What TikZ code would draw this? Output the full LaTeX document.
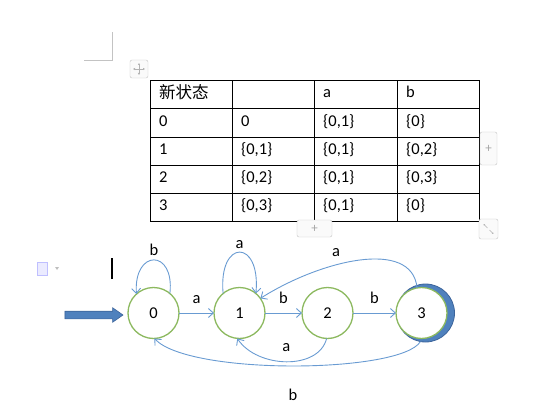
\documentclass[tikz,border=0pt]{standalone}
\usepackage{fontspec}
\setmainfont{Carlito}
\newfontfamily\cjk{Noto Sans CJK SC}
\usepackage{tikz}
\usetikzlibrary{arrows.meta, positioning, shapes.arrows}
\definecolor{stategreen}{RGB}{140,185,95}
\definecolor{edgeblue}{RGB}{105,155,210}
\definecolor{startblue}{RGB}{79,129,189}
\definecolor{startedge}{RGB}{60,100,155}
\definecolor{chromegray}{RGB}{195,195,195}

\begin{document}
\begin{tikzpicture}[
  x=1pt, y=1pt,
  every node/.style={font=\fontsize{16.5}{19}\selectfont},
  state/.style={circle, draw=stategreen, line width=1.3pt, fill=white,
                minimum size=51pt, inner sep=0pt, outer sep=0pt},
  ring/.style={circle, draw=startedge, fill=startblue, line width=0.8pt,
               minimum size=58pt, inner sep=0pt, outer sep=0pt},
  trans/.style={-{Straight Barb[length=5pt,width=9pt]}, draw=edgeblue, line width=0.9pt},
  cell/.style={anchor=base west, inner sep=0pt},
  startarrow/.style={single arrow, draw=startedge, fill=startblue, line width=0.6pt,
                     minimum height=58pt, inner xsep=0pt, inner ysep=3.5pt,
                     single arrow head extend=3.5pt, single arrow tip angle=70},
  button/.style={draw=chromegray, rounded corners=2pt, fill=gray!4, inner sep=0pt,
                 text=gray!70, font=\fontsize{13}{13}\selectfont},
  icon/.style={gray!60, line width=0.5pt}
]
\useasboundingbox (0,0) rectangle (541,413);

%--- Page chrome ---%
\draw[chromegray, line width=0.6pt] (84,353) -- (112,353) -- (112,381);
\node[button, minimum width=18pt, minimum height=18pt] (mover) at (139,344) {};
\draw[icon, {Latex[length=2pt,width=2.5pt]}-{Latex[length=2pt,width=2.5pt]}]
  ([xshift=-6pt]mover.center) -- ([xshift=6pt]mover.center);
\draw[icon, {Latex[length=2pt,width=2.5pt]}-{Latex[length=2pt,width=2.5pt]}]
  ([yshift=-6pt]mover.center) -- ([yshift=6pt]mover.center);

%--- Table ---%
\draw[line width=0.8pt] (150,192) rectangle (479,333);
\foreach \y in {305,276,248,220} \draw[line width=0.8pt] (150,\y) -- (479,\y);
\foreach \x in {232,314,397} \draw[line width=0.8pt] (\x,192) -- (\x,333);

\node[cell] (hnew) at (159,314)   {\cjk 新状态};
\node[cell] (ha)   at (323,315)   {a};
\node[cell] (hb)   at (406,315)   {b};

\node[cell] (s0)  at (159,286.5) {0};
\node[cell] (s0q) at (241,286.5) {0};
\node[cell] (s0a) at (323,286.5) {\{0,1\}};
\node[cell] (s0b) at (406,286.5) {\{0\}};

\node[cell] (s1)  at (159,258)   {1};
\node[cell] (s1q) at (241,258)   {\{0,1\}};
\node[cell] (s1a) at (323,258)   {\{0,1\}};
\node[cell] (s1b) at (406,258)   {\{0,2\}};

\node[cell] (s2)  at (159,230)   {2};
\node[cell] (s2q) at (241,230)   {\{0,2\}};
\node[cell] (s2a) at (323,230)   {\{0,1\}};
\node[cell] (s2b) at (406,230)   {\{0,3\}};

\node[cell] (s3)  at (159,202)   {3};
\node[cell] (s3q) at (241,202)   {\{0,3\}};
\node[cell] (s3a) at (323,202)   {\{0,1\}};
\node[cell] (s3b) at (406,202)   {\{0\}};

\node[button, minimum width=17pt, minimum height=33pt] (addcol) at (488.5,264.5) {+};
\node[button, minimum width=35pt, minimum height=17pt] (addrow) at (314.5,184.5) {+};
\node[button, minimum width=19pt, minimum height=20pt] (resize) at (488.5,184) {};
\draw[icon, line width=0.4pt, -{Latex[length=1.5pt,width=2pt]}]
  ([shift={(-1,1)}]resize.center) -- ([shift={(-5,5)}]resize.center);
\draw[icon, line width=0.4pt, -{Latex[length=1.5pt,width=2pt]}]
  ([shift={(1,-1)}]resize.center) -- ([shift={(5,-5)}]resize.center);

%--- Editor marks ---%
\node[draw=blue!25, fill=blue!8, minimum width=10pt, minimum height=13pt, inner sep=0pt]
  (docicon) at (42,144) {};
\fill[gray!50] (55,146) -- (59,146) -- (57,143) -- cycle;
\draw[line width=1.5pt] (112,134) -- (112,155);

%--- States ---%
\node[state] (q0) at (153.5,100) {0};
\node[state, right=35pt of q0] (q1) {1};
\node[state, right=37pt of q1] (q2) {2};
\node[ring] (q3ring) at (425.5,100) {};
\node[state, right=43pt of q2] (q3) {3};

\node[startarrow, left=4.5pt of q0, yshift=-2pt] (start) {};

%--- Transitions ---%
\draw[trans] (q0) -- node[above=6pt] {a} (q1);
\draw[trans] (q1) -- node[above=6pt] {b} (q2);
\draw[trans] (q2) -- node[above=6pt] {b} (q3);

\draw[trans] (q0.50) .. controls +(5,45) and +(-3,45) .. node[above=1pt] {b} (q0.132);
\draw[trans] (q1.130) .. controls +(-5,55) and +(5,55) .. node[above=0pt] {a} (q1.50);

\draw[trans] (q3.100) .. controls +(-5,50) and +(60,38) .. node[pos=0.62, above=4pt] {a} (q1.35);
\draw[trans] (q2.-92) .. controls +(-8,-32) and +(20,-30) .. node[above=6pt] {a} (q1.-95);
\draw[trans] (q3ring.-100) .. controls +(-20,-32) and +(35,-37) .. node[below=19pt] {b} (q0.-88);

\end{tikzpicture}
\end{document}
